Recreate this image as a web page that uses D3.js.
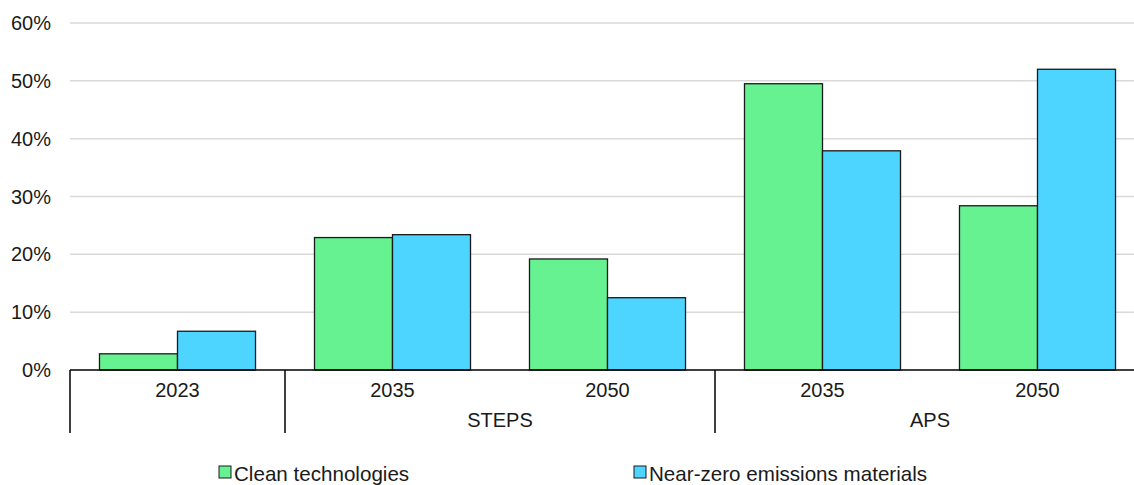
<!DOCTYPE html>
<html>
<head>
<meta charset="utf-8">
<script src="https://cdn.jsdelivr.net/npm/d3@7"></script>
<style>
  body { margin: 0; background: #fff; }
  svg { display: block; font-family: "Liberation Sans", Arial, sans-serif; }
</style>
</head>
<body>
<svg width="1134" height="485"></svg>
<script>
// data
const years   = ["2023", "2035", "2050", "2035", "2050"];
const groups  = ["", "STEPS", "STEPS", "APS", "APS"];
const series  = ["Clean technologies", "Near-zero emissions materials"];
const clean   = [2.8, 22.9, 19.2, 49.5, 28.4];
const nearZero = [6.7, 23.4, 12.5, 37.9, 52.0];
const yTicks  = [0, 10, 20, 30, 40, 50, 60];
const colors  = ["#66f291", "#4dd4ff"];

const svg = d3.select("svg");
const plotLeft = 70, plotRight = 1145, plotTop = 23, plotBottom = 370;
const fontSize = "20px";

const x = d3.scaleBand()
    .domain(d3.range(years.length))
    .range([plotLeft, plotRight])
    .paddingInner(0)
    .paddingOuter(0);

const x1 = d3.scaleBand()
    .domain([0, 1])
    .range([0, x.bandwidth()])
    .paddingOuter(0.378);

const y = d3.scaleLinear().domain([0, 60]).range([plotBottom, plotTop]);

// gridlines
svg.append("g")
    .selectAll("line")
    .data(yTicks.filter(d => d > 0))
    .enter()
    .append("line")
    .attr("x1", plotLeft)
    .attr("x2", plotRight)
    .attr("y1", d => y(d))
    .attr("y2", d => y(d))
    .attr("stroke", "#d9d9d9")
    .attr("stroke-width", 1.5);

// y labels
svg.append("g")
    .selectAll("text")
    .data(yTicks)
    .enter()
    .append("text")
    .attr("x", 51)
    .attr("y", d => y(d) + 7)
    .attr("text-anchor", "end")
    .attr("font-size", fontSize)
    .attr("fill", "#1a1a1a")
    .text(d => d + "%");

// bars
const table = years.map((yr, i) => [clean[i], nearZero[i]]);
const cat = svg.append("g")
    .selectAll("g")
    .data(table)
    .enter()
    .append("g")
    .attr("transform", (d, i) => `translate(${x(i)},0)`);

cat.selectAll("rect")
    .data(d => d)
    .enter()
    .append("rect")
    .attr("x", (d, j) => x1(j))
    .attr("width", x1.bandwidth())
    .attr("y", d => y(d))
    .attr("height", d => y(0) - y(d))
    .attr("fill", (d, j) => colors[j])
    .attr("stroke", "#1a1a1a")
    .attr("stroke-width", 1.3);

// axis line
svg.append("line")
    .attr("x1", plotLeft).attr("x2", plotRight)
    .attr("y1", plotBottom).attr("y2", plotBottom)
    .attr("stroke", "#000").attr("stroke-width", 1.5);

// year labels
svg.append("g")
    .selectAll("text")
    .data(years)
    .enter()
    .append("text")
    .attr("x", (d, i) => x(i) + x.bandwidth() / 2)
    .attr("y", 397)
    .attr("text-anchor", "middle")
    .attr("font-size", fontSize)
    .attr("fill", "#1a1a1a")
    .text(d => d);

// group separators and labels
const groupInfo = [];
groups.forEach((g, i) => {
    const last = groupInfo[groupInfo.length - 1];
    if (last && last.name === g) last.end = i;
    else groupInfo.push({name: g, start: i, end: i});
});

const edges = groupInfo.map(g => x(g.start)).concat([x(years.length - 1) + x.bandwidth()]);
svg.append("g")
    .selectAll("line")
    .data(edges)
    .enter()
    .append("line")
    .attr("x1", d => d).attr("x2", d => d)
    .attr("y1", plotBottom).attr("y2", 433)
    .attr("stroke", "#000").attr("stroke-width", 1.5);

svg.append("g")
    .selectAll("text")
    .data(groupInfo.filter(g => g.name))
    .enter()
    .append("text")
    .attr("x", g => (x(g.start) + x(g.end) + x.bandwidth()) / 2)
    .attr("y", 427)
    .attr("text-anchor", "middle")
    .attr("font-size", fontSize)
    .attr("fill", "#1a1a1a")
    .text(g => g.name);

// legend
const legendX = [219, 634];
const legend = svg.append("g")
    .selectAll("g")
    .data(series)
    .enter()
    .append("g")
    .attr("transform", (d, i) => `translate(${legendX[i]}, 466)`);

legend.append("rect")
    .attr("width", 12).attr("height", 12)
    .attr("fill", (d, i) => colors[i])
    .attr("stroke", "#1a1a1a").attr("stroke-width", 1);

legend.append("text")
    .attr("x", 15)
    .attr("y", 15)
    .attr("font-size", "20.6px")
    .attr("fill", "#1a1a1a")
    .text(d => d);
</script>
</body>
</html>
